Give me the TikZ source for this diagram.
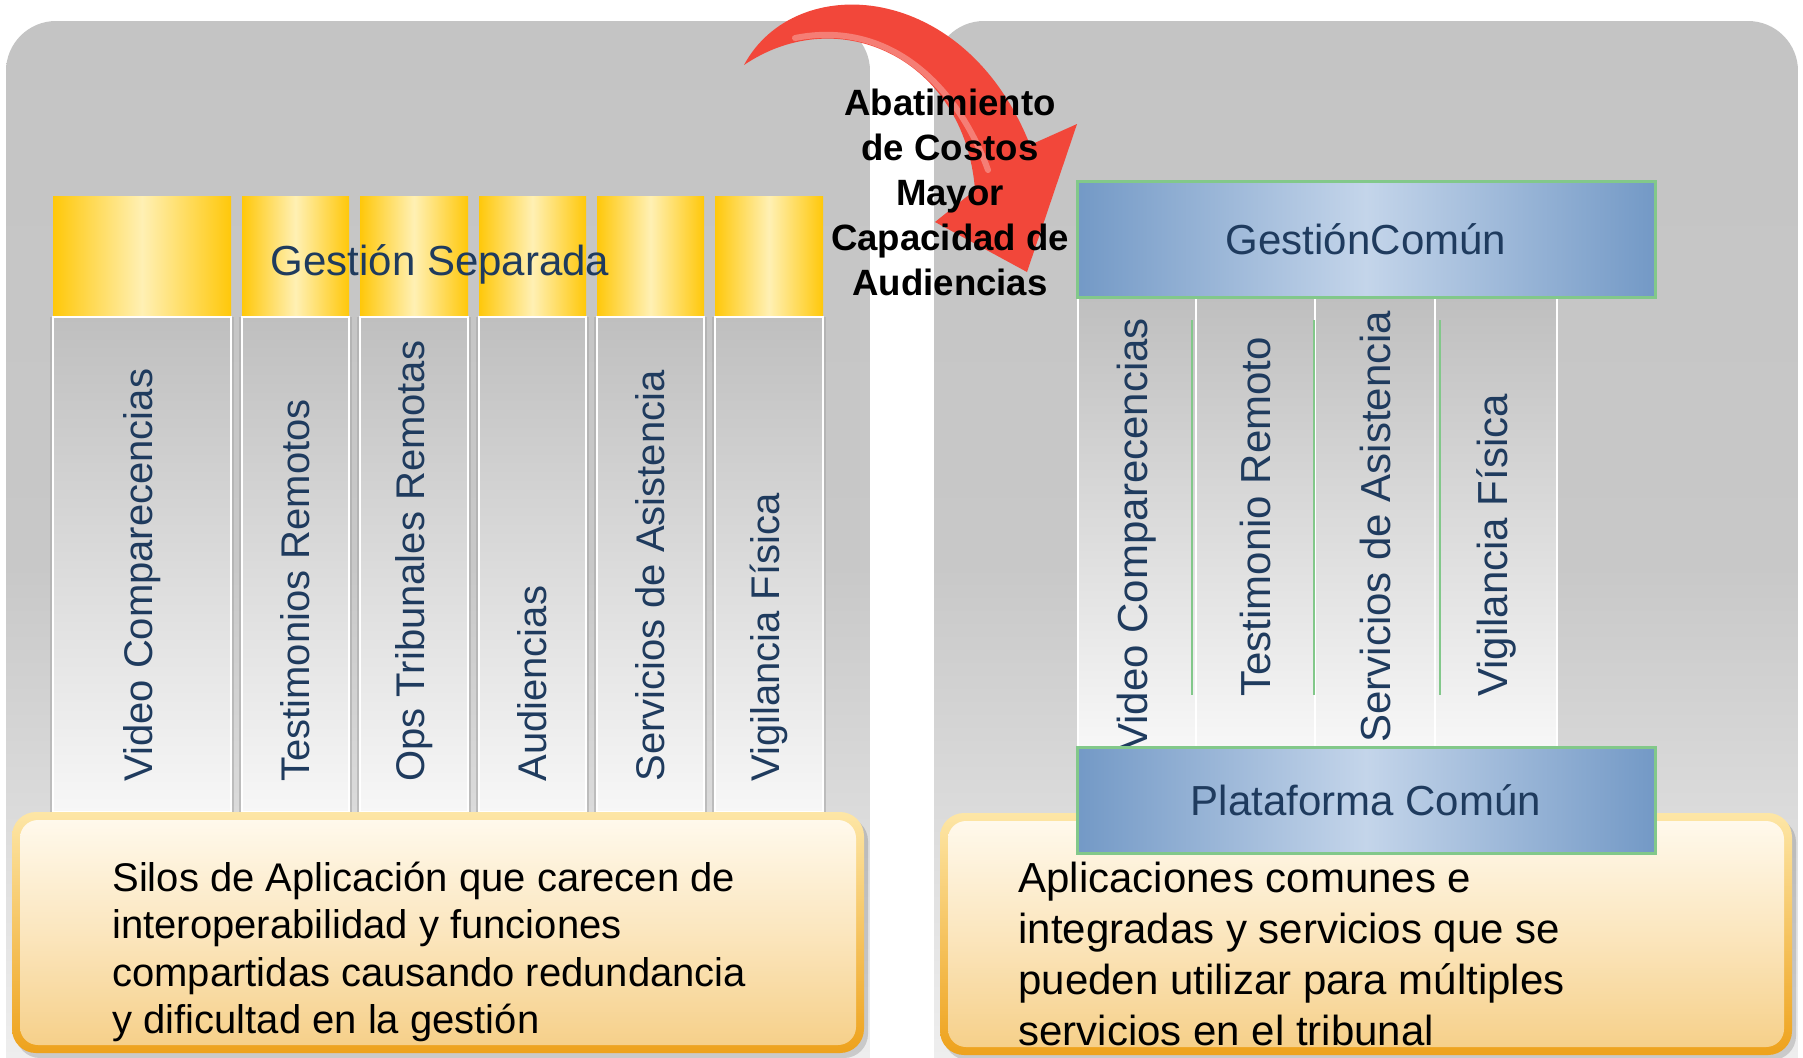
\documentclass[tikz,border=0pt]{standalone}
\usepackage{fontspec}
\setmainfont{Liberation Sans}
\definecolor{panelgray}{HTML}{C4C4C4}
\definecolor{panelmid}{HTML}{C8C8C8}
\definecolor{panellow}{HTML}{F2F2F2}
\definecolor{navy}{HTML}{1F3B5E}
\definecolor{gold}{HTML}{FFC80A}
\definecolor{goldlight}{HTML}{FFF0B4}
\definecolor{blueedge}{HTML}{7399C6}
\definecolor{bluemid}{HTML}{C4D5EA}
\definecolor{greenline}{HTML}{82C88A}
\definecolor{silotop}{HTML}{BFBFBF}
\definecolor{silobot}{HTML}{F7F7F7}
\definecolor{siloedge}{HTML}{A9A9A9}
\definecolor{arrowred}{HTML}{F2473A}
\definecolor{rimtop}{HTML}{FDE6A6}
\definecolor{rimbot}{HTML}{EEA21C}
\definecolor{fillhi}{HTML}{FFF9EC}
\definecolor{fillmid}{HTML}{FBE6BE}
\definecolor{filllo}{HTML}{F6D08A}

\def\headtop{196}
\def\headbot{317}
\def\silobottom{812}

\begin{document}
\begin{tikzpicture}[x=0.5pt, y=-0.5pt,
    panel/.style={rounded corners=25pt, top color=panelgray, bottom color=panellow, middle color=panelmid},
    yellowhead/.style={left color=gold, right color=gold, middle color=goldlight},
    silo/.style={top color=silotop, bottom color=silobot, draw=white, line width=0.8pt},
    siloshade/.style={siloedge, opacity=0.6, line width=1.2pt},
    bluebar/.style={left color=blueedge, right color=blueedge, middle color=bluemid, draw=greenline, line width=1.5pt},
    bartext/.style={text=navy, inner sep=0pt, font=\fontsize{21}{25}\selectfont},
    silotext/.style={rotate=90, anchor=west, text=navy, inner sep=0pt, font=\fontsize{20}{24}\selectfont},
    silotextr/.style={silotext, font=\fontsize{21}{25}\selectfont},
    boxshadow/.style={fill=black, opacity=0.15, rounded corners=12pt},
    boxrim/.style={rounded corners=12pt, top color=rimtop, bottom color=rimbot},
    boxfill/.style={rounded corners=9pt, top color=fillhi, bottom color=filllo, middle color=fillmid},
    notetext/.style={anchor=west, align=left, inner sep=0pt},
    gaintext/.style={align=center, inner sep=0pt, font=\bfseries\fontsize{18.3}{22.5}\selectfont}]
    \clip (0,0) rectangle (1803,1057);
    \fill[white] (0,0) rectangle (1803,1057);
    \path[panel] (6,21) rectangle (870,1110);
    \path[panel] (934,21) rectangle (1798,1110);

    \foreach \xa/\xb/\lbl [count=\i] in {53/231/Video Comparecencias, 242/349/Testimonios Remotos,
        360/468/Ops Tribunales Remotas, 479/586/Audiencias, 597/704/Servicios de Asistencia, 715/823/Vigilancia Física}
    {
        \path[yellowhead] (\xa,\headtop) rectangle (\xb,\headbot);
        \draw[siloshade] (\xa-2,\headbot) -- (\xa-2,\silobottom) (\xb+2,\headbot) -- (\xb+2,\silobottom);
        \path[silo] (\xa,\headbot) rectangle (\xb,\silobottom);
        \node[silotext] (silo\i) at ({(\xa+\xb)/2},782) {\lbl};
    }
    \node[bartext] (separada) at (440,264) {Gestión Separada};

    \foreach \xa/\xb/\yb/\lbl [count=\i] in {1078/1196/752/Video Comparecencias, 1196/1315/697/Testimonio Remoto,
        1315/1435/743/Servicios de Asistencia, 1435/1557/697/Vigilancia Física}
    {
        \path[silo] (\xa,297) rectangle (\xb,747);
        \node[silotextr] (comun\i) at ({(\xa+\xb)/2},\yb) {\lbl};
    }
    \foreach \gx in {1192, 1314, 1440}
        \draw[greenline, line width=1pt] (\gx,320) -- (\gx,695);

    \path[boxshadow] (16,817) rectangle (868,1058);
    \path[boxrim] (12,812) rectangle (864,1053);
    \path[boxfill] (20,820) rectangle (856,1045);
    \node[notetext, font=\fontsize{20}{23.75}\selectfont] (silonote) at (112,952)
        {Silos de Aplicación que carecen de\\interoperabilidad y funciones\\compartidas causando redundancia\\y dificultad en la gestión};

    \path[boxshadow] (944,818) rectangle (1796,1060);
    \path[boxrim] (940,813) rectangle (1792,1055);
    \path[boxfill] (948,821) rectangle (1784,1047);
    \node[notetext, font=\fontsize{21}{25.5}\selectfont] (comunnote) at (1018,954)
        {Aplicaciones comunes e\\integradas y servicios que se\\pueden utilizar para múltiples\\servicios en el tribunal};

    \path[bluebar] (1077,747) rectangle (1655,853);
    \node[bartext] (plataforma) at (1366,800) {Plataforma Común};
    \path[bluebar] (1077,181) rectangle (1655,297);
    \node[bartext] (gestioncomun) at (1366,239) {GestiónComún};

    \fill[arrowred] (744,65) .. controls (795,-30) and (965,-20) .. (1030,145) -- (1077,124) -- (1027,272)
        -- (935,222) -- (975,190) .. controls (965,60) and (840,0) .. (744,65) -- cycle;
    \draw[white, opacity=0.3, line width=3pt, line cap=round] (795,38) .. controls (885,20) and (955,80) .. (988,170);
    \node[gaintext] (gain) at (950,192) {Abatimiento\\de Costos\\Mayor\\Capacidad de\\Audiencias};
\end{tikzpicture}
\end{document}
